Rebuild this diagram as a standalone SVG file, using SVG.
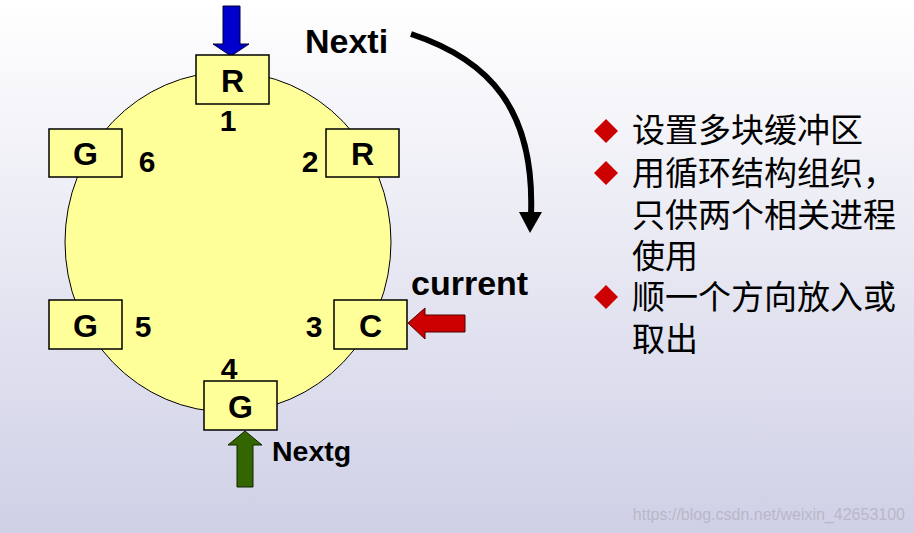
<svg xmlns="http://www.w3.org/2000/svg" width="914" height="533" viewBox="0 0 914 533">
<defs>
<linearGradient id="bg" x1="0" y1="0" x2="0" y2="1"><stop offset="0" stop-color="#ffffff"/><stop offset="1" stop-color="#cfd0e6"/></linearGradient>
</defs>
<style>
.box{fill:#ffff99;stroke:#000;stroke-width:1.5}
.lbl{font-family:"Liberation Sans",Arial,sans-serif;font-weight:bold;fill:#000}
.cn{font-family:"Noto Sans CJK SC",sans-serif;font-size:33px;fill:#000}
.d{fill:#cc0000}
</style>
<rect width="914" height="533" fill="url(#bg)"/>
<ellipse cx="228" cy="242" rx="163" ry="170" fill="#ffff99" stroke="#000" stroke-width="1"/>
<g id="connectors">
<polygon points="223,6 240,6 240,44 249,44 231,56 213,44 223,44" fill="#0000cc" stroke="#000033" stroke-width="1"/>
<polygon points="408,323 425,308 425,315 465,315 465,332 425,332 425,339" fill="#cc0000" stroke="#550000" stroke-width="1"/>
<polygon points="245,431 262,445 253,445 253,487 237,487 237,445 228,445" fill="#336600" stroke="#112200" stroke-width="1"/>
<path d="M411,34 C490,60 535,110 531,215" fill="none" stroke="#000" stroke-width="6"/>
<polygon points="519,212 542,212 530,233" fill="#000"/>
</g>
<g id="n1"><rect class="box" x="196" y="55" width="73" height="49"/><text class="lbl" x="232.5" y="92" font-size="32" text-anchor="middle">R</text></g>
<g id="n2"><rect class="box" x="326" y="129" width="73" height="48"/><text class="lbl" x="362.5" y="165" font-size="32" text-anchor="middle">R</text></g>
<g id="n3"><rect class="box" x="334" y="300" width="73" height="49"/><text class="lbl" x="370.5" y="337" font-size="32" text-anchor="middle">C</text></g>
<g id="n4"><rect class="box" x="204" y="381" width="73" height="49"/><text class="lbl" x="240.5" y="418" font-size="32" text-anchor="middle">G</text></g>
<g id="n5"><rect class="box" x="49" y="300" width="73" height="49"/><text class="lbl" x="85.5" y="337" font-size="32" text-anchor="middle">G</text></g>
<g id="n6"><rect class="box" x="49" y="129" width="73" height="48"/><text class="lbl" x="85.5" y="165" font-size="32" text-anchor="middle">G</text></g>
<g font-size="30">
<text class="lbl" x="228" y="131" text-anchor="middle">1</text>
<text class="lbl" x="310" y="172" text-anchor="middle">2</text>
<text class="lbl" x="314" y="337" text-anchor="middle">3</text>
<text class="lbl" x="229" y="379" text-anchor="middle">4</text>
<text class="lbl" x="143" y="337" text-anchor="middle">5</text>
<text class="lbl" x="147" y="172" text-anchor="middle">6</text>
</g>
<text class="lbl" x="305" y="53" font-size="34">Nexti</text>
<text class="lbl" x="411" y="295" font-size="34">current</text>
<text class="lbl" x="272" y="461" font-size="28.5">Nextg</text>
<g>
<polygon class="d" points="606,119 618,131 606,143 594,131"/>
<polygon class="d" points="606,161 618,173 606,185 594,173"/>
<polygon class="d" points="606,285 618,297 606,309 594,297"/>
<text class="cn" x="632" y="142">设置多块缓冲区</text>
<text class="cn" x="632" y="185">用循环结构组织，</text>
<text class="cn" x="632" y="227">只供两个相关进程</text>
<text class="cn" x="632" y="268">使用</text>
<text class="cn" x="632" y="309">顺一个方向放入或</text>
<text class="cn" x="632" y="351">取出</text>
</g>
<text x="905" y="520" font-family="Liberation Sans,Arial,sans-serif" font-size="16" fill="#b8b8c8" text-anchor="end">https://blog.csdn.net/weixin_42653100</text>
</svg>
